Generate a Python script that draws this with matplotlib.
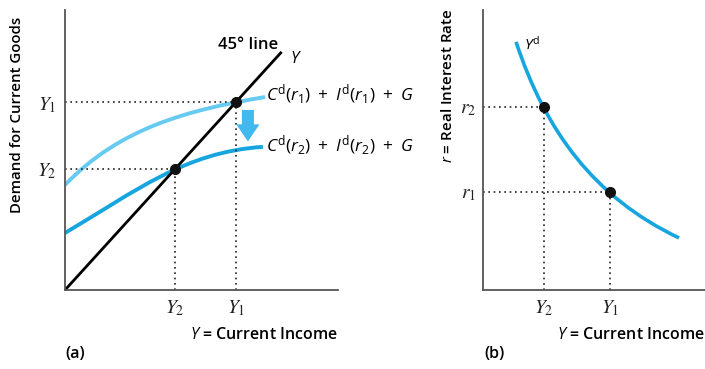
import matplotlib
matplotlib.use("Agg")
import matplotlib.pyplot as plt
from matplotlib.patches import FancyArrow, PathPatch
from matplotlib.path import Path

plt.rcParams['font.family'] = ['Open Sans', 'DejaVu Sans']
plt.rcParams['mathtext.fontset'] = 'custom'
plt.rcParams['mathtext.rm'] = 'Open Sans'
plt.rcParams['mathtext.it'] = 'Open Sans:italic'
plt.rcParams['mathtext.bf'] = 'Open Sans:bold'

# ---- data, panel (a) ----
line45_x = [0.0, 7.9]
# cubic Bezier control points (start, ctrl1, ctrl2, end)
upper_x = [0.0, 2.0, 4.5, 7.33]
upper_y = [3.5, 5.4, 6.0, 6.43]
lower_x = [0.0, 2.6, 4.4, 7.25]
lower_y = [1.9, 3.3, 4.6, 4.77]
Y1_a, Y2_a = 6.25, 4.03
tick_labels = [r'$Y_1$', r'$Y_2$']

# ---- data, panel (b) ----
yd_x = [1.49, 2.8, 5.0, 8.83]
yd_y = [8.86, 5.7, 3.3, 1.86]
Y2_b, Y1_b = 2.73, 5.72
r2_b, r1_b = 6.54, 3.50
r_labels = [r'$r_2$', r'$r_1$']

W, H = 705, 369
fig = plt.figure(figsize=(W/100, H/100), dpi=100)

def box(l, r, t, b):
    return [l/W, (H-b)/H, (r-l)/W, (b-t)/H]

light = '#66caf1'
mid = '#17a5e0'
axcol = '#555555'
dot_kw = dict(color='#222222', lw=1.2, ls=(0, (1, 2.2)))
codes = [Path.MOVETO, Path.CURVE4, Path.CURVE4, Path.CURVE4]

def bezier(ax, xs, ys, color, lw):
    p = Path(list(zip(xs, ys)), codes)
    ax.add_patch(PathPatch(p, facecolor='none', edgecolor=color, lw=lw, capstyle='butt'))

def style(ax):
    for s in ['top', 'right']:
        ax.spines[s].set_visible(False)
    for s in ['left', 'bottom']:
        ax.spines[s].set_color(axcol)
        ax.spines[s].set_linewidth(1.3)
    ax.tick_params(length=0, pad=6)

# Panel (a)
ax = fig.add_axes(box(65, 338, 10, 290))
style(ax)
ax.set_xlim(0, 10)
ax.set_ylim(0, 9.33)
ax.plot([Y1_a, Y1_a], [0, Y1_a], **dot_kw)
ax.plot([0, Y1_a], [Y1_a, Y1_a], **dot_kw)
ax.plot([Y2_a, Y2_a], [0, Y2_a], **dot_kw)
ax.plot([0, Y2_a], [Y2_a, Y2_a], **dot_kw)
bezier(ax, upper_x, upper_y, light, 2.8)
bezier(ax, lower_x, lower_y, mid, 2.8)
ax.plot(line45_x, line45_x, color='black', lw=2.0)
ax.plot([Y1_a, Y2_a], [Y1_a, Y2_a], 'o', color='#111111', ms=7)
ax.add_patch(FancyArrow(6.7, 6.0, 0, -1.05, width=0.44, head_width=0.85,
                        head_length=0.57, length_includes_head=True,
                        color='#40b9ee', lw=0))
ax.set_xticks([Y2_a, Y1_a])
ax.set_xticklabels(tick_labels[::-1], fontsize=14, math_fontfamily='stix', color='#222222')
ax.set_yticks([Y2_a, Y1_a])
ax.set_yticklabels(tick_labels[::-1], fontsize=14, math_fontfamily='stix', color='#222222')
ax.text(6.7, 8.17, '45° line', fontsize=12, fontweight='semibold', ha='center', va='center')
ax.text(8.25, 7.7, r'$Y$', fontsize=12, ha='left', va='center')
ax.text(7.35, 6.5, r'$C^{\mathrm{d}}(r_1)\ +\ I^{\mathrm{d}}(r_1)\ +\ G$', fontsize=12.5,
        ha='left', va='center', clip_on=False)
ax.text(7.35, 4.8, r'$C^{\mathrm{d}}(r_2)\ +\ I^{\mathrm{d}}(r_2)\ +\ G$', fontsize=12.5,
        ha='left', va='center', clip_on=False)
ax.set_ylabel('Demand for Current Goods', fontsize=10.8, fontweight='semibold')
ax.yaxis.set_label_coords(-41/273, 0.625)
fig.text(338/W, 1-335/H, r'$Y$ = Current Income', fontsize=11.5, fontweight='semibold',
         ha='right', va='center')
fig.text(65/W, 1-354/H, '(a)', fontsize=11.5, fontweight='semibold', ha='left', va='center')

# Panel (b)
bx = fig.add_axes(box(483, 705, 10, 290))
style(bx)
bx.set_xlim(0, 10)
bx.set_ylim(0, 10)
bx.plot([Y2_b, Y2_b], [0, r2_b], **dot_kw)
bx.plot([0, Y2_b], [r2_b, r2_b], **dot_kw)
bx.plot([Y1_b, Y1_b], [0, r1_b], **dot_kw)
bx.plot([0, Y1_b], [r1_b, r1_b], **dot_kw)
bezier(bx, yd_x, yd_y, mid, 2.6)
bx.plot([Y2_b, Y1_b], [r2_b, r1_b], 'o', color='#111111', ms=7)
bx.text(1.85, 8.75, r'$Y^{\mathrm{d}}$', fontsize=11, ha='left', va='center')
bx.set_xticks([Y2_b, Y1_b])
bx.set_xticklabels(tick_labels[::-1], fontsize=14, math_fontfamily='stix', color='#222222')
bx.set_yticks([r1_b, r2_b])
bx.set_yticklabels(r_labels[::-1], fontsize=14, math_fontfamily='stix', color='#222222')
bx.tick_params(axis='y', pad=5)
bx.set_ylabel(r'$r$ = Real Interest Rate', fontsize=11, fontweight='semibold')
bx.yaxis.set_label_coords(-28/222, 0.73)
fig.text(705/W, 1-335/H, r'$Y$ = Current Income', fontsize=11.5, fontweight='semibold',
         ha='right', va='center')
fig.text(484/W, 1-354/H, '(b)', fontsize=11.5, fontweight='semibold', ha='left', va='center')

fig.savefig('out.png', dpi=100)
